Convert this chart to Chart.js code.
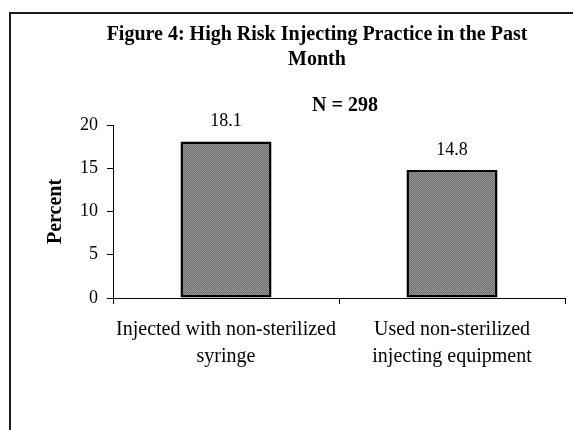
<!DOCTYPE html>
<html>
<head>
<meta charset="utf-8">
<script src="https://cdn.jsdelivr.net/npm/chart.js@4"></script>
<style>
html,body{margin:0;padding:0;background:#fff;}
#wrap{width:573px;height:430px;position:relative;}
</style>
</head>
<body>
<div id="wrap"><canvas id="c" width="573" height="430"></canvas></div>
<script>
const titleLines = ["Figure 4: High Risk Injecting Practice in the Past", "Month"];
const subtitleText = "N = 298";
const categories = [["Injected with non-sterilized", "syringe"], ["Used non-sterilized", "injecting equipment"]];
const values = [18.1, 14.8];
const yTicks = [0, 5, 10, 15, 20];
const yAxisTitle = "Percent";

const SERIF = "'Liberation Serif', 'Times New Roman', serif";

function makePattern() {
  const p = document.createElement('canvas');
  p.width = 4; p.height = 4;
  const g = p.getContext('2d');
  g.fillStyle = '#9c9c9c';
  g.fillRect(0, 0, 4, 4);
  g.fillStyle = '#686868';
  for (let i = 0; i < 4; i++) {
    g.fillRect(i, 3 - i, 1, 1);
    g.fillRect((i + 2) % 4, 3 - i, 1, 1);
  }
  return g.createPattern(p, 'repeat');
}

const decorPlugin = {
  id: 'decor',
  beforeDraw(chart) {
    const ctx = chart.ctx;
    ctx.save();
    ctx.fillStyle = '#fff';
    ctx.fillRect(0, 0, chart.width, chart.height);
    ctx.strokeStyle = '#1a1a1a';
    ctx.lineWidth = 2;
    ctx.beginPath();
    ctx.moveTo(10, chart.height + 5);
    ctx.lineTo(10, 13);
    ctx.lineTo(chart.width + 5, 13);
    ctx.stroke();
    ctx.fillStyle = '#000';
    ctx.textAlign = 'center';
    ctx.textBaseline = 'alphabetic';
    ctx.font = "bold 20px " + SERIF;
    ctx.fillText(titleLines[0], 317, 40);
    ctx.fillText(titleLines[1], 317, 65);
    ctx.fillText(subtitleText, 345, 111);
    ctx.restore();
  },
  afterDatasetsDraw(chart) {
    const ctx = chart.ctx;
    const meta = chart.getDatasetMeta(0);
    ctx.save();
    ctx.fillStyle = '#000';
    ctx.textAlign = 'center';
    ctx.textBaseline = 'alphabetic';
    ctx.font = "18px " + SERIF;
    meta.data.forEach((bar, i) => {
      ctx.fillText(values[i].toFixed(1), bar.x, bar.y - 15);
    });
    ctx.restore();
  }
};

new Chart(document.getElementById('c'), {
  type: 'bar',
  data: {
    labels: categories,
    datasets: [{
      data: values,
      backgroundColor: makePattern(),
      borderColor: '#000',
      borderWidth: 2.5,
      borderSkipped: false,
      categoryPercentage: 1,
      barPercentage: 0.403
    }]
  },
  options: {
    responsive: false,
    animation: false,
    devicePixelRatio: 1,
    layout: { padding: { left: 0, right: 8, top: 125, bottom: 0 } },
    plugins: { legend: { display: false }, tooltip: { enabled: false }, title: { display: false } },
    scales: {
      x: {
        offset: true,
        grid: { display: true, offset: true, drawOnChartArea: false, drawTicks: true, tickLength: 6, color: '#000', lineWidth: 1 },
        border: { display: true, color: '#000', width: 1 },
        ticks: { color: '#000', font: { family: SERIF, size: 20, lineHeight: 1.32 }, padding: 13, maxRotation: 0, autoSkip: false },
        afterFit(s) { s.height = 132; }
      },
      y: {
        min: 0, max: 20,
        afterBuildTicks(s) { s.ticks = yTicks.map(v => ({ value: v })); },
        grid: { display: true, drawOnChartArea: false, drawTicks: true, tickLength: 6, color: '#000', lineWidth: 1 },
        border: { display: true, color: '#000', width: 1 },
        ticks: { color: '#000', font: { family: SERIF, size: 18 }, padding: 9 },
        title: { display: true, text: yAxisTitle, color: '#000', font: { family: SERIF, size: 20, weight: 'bold' }, padding: { top: 44, bottom: 0 } },
        afterFit(s) { s.width = 113; }
      }
    }
  },
  plugins: [decorPlugin]
});
</script>
</body>
</html>
